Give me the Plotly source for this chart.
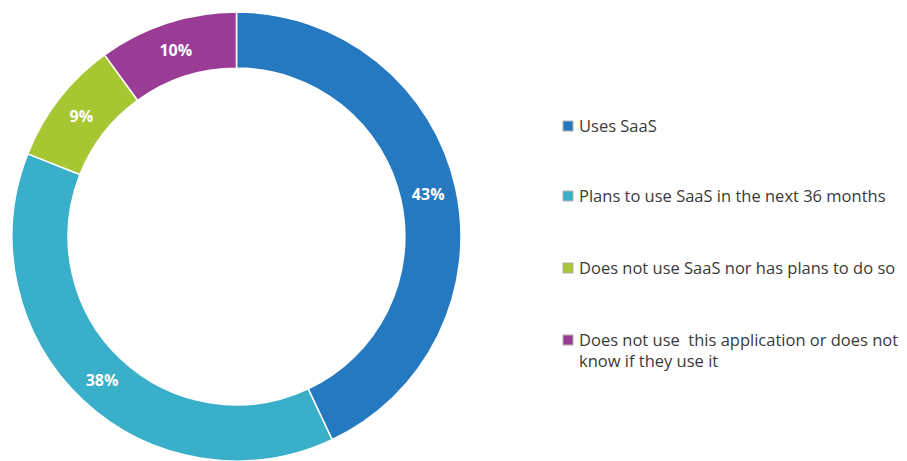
import plotly.graph_objects as go

labels = ["Uses SaaS",
          "Plans to use SaaS in the next 36 months",
          "Does not use SaaS nor has plans to do so",
          "Does not use  this application or does not know if they use it"]
legend_text = ["Uses SaaS",
               "Plans to use SaaS in the next 36 months",
               "Does not use SaaS nor has plans to do so",
               "Does not use  this application or does not<br>know if they use it"]
values = [43, 38, 9, 10]
colors = ["#2579c0", "#39afc9", "#a6c632", "#9a3c96"]

W, H = 907, 461
cx, r = 236.5, 224.5

fig = go.Figure(go.Pie(
    labels=labels, values=values, hole=0.75, sort=False,
    direction="clockwise", rotation=0,
    marker=dict(colors=colors, line=dict(color="white", width=1.5)),
    texttemplate="%{percent:.0%}", textposition="inside",
    insidetextorientation="horizontal",
    textfont=dict(family="Open Sans", size=16, color="white", weight="bold"),
    showlegend=False, hoverinfo="label+percent",
    domain=dict(x=[(cx - r) / W, (cx + r) / W], y=[0, (H - 12) / H]),
))

# custom legend
leg_y = [126, 196, 268, 340]
shapes, annots = [], []
for i, (t, c) in enumerate(zip(legend_text, colors)):
    y = leg_y[i]
    shapes.append(dict(type="rect", xref="paper", yref="paper",
                       x0=563 / W, x1=573 / W,
                       y0=1 - (y + 5) / H, y1=1 - (y - 5) / H,
                       fillcolor=c, line=dict(color="#b0b0b0", width=1)))
    annots.append(dict(xref="paper", yref="paper", x=577 / W, y=1 - (y - 14) / H,
                       xanchor="left", yanchor="top", align="left",
                       text=t, showarrow=False,
                       font=dict(family="Open Sans", size=16.5, color="#3a3a3a")))

fig.update_layout(width=W, height=H, margin=dict(l=0, r=0, t=0, b=0),
                  paper_bgcolor="white", plot_bgcolor="white",
                  shapes=shapes, annotations=annots)
fig.write_html("out.html")
